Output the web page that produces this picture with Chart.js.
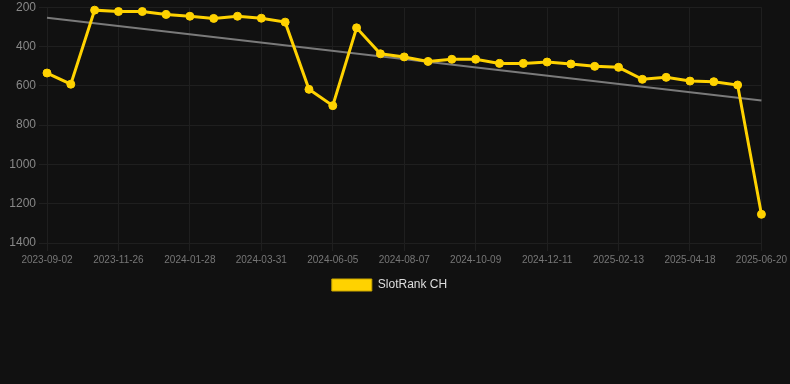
<!DOCTYPE html>
<html>
<head>
<meta charset="utf-8">
<script src="https://cdn.jsdelivr.net/npm/chart.js@4"></script>
<style>
  html, body { margin: 0; padding: 0; background: #111111; }
  #wrap { width: 790px; height: 301px; }
</style>
</head>
<body>
<div id="wrap"><canvas id="chartRank"></canvas></div>
<script>
"use strict";

var dates = [
  "2023-09-02", "2023-09-30", "2023-10-28", "2023-11-26", "2023-12-17", "2024-01-07",
  "2024-01-28", "2024-02-18", "2024-03-10", "2024-03-31", "2024-04-21", "2024-05-14",
  "2024-06-05", "2024-06-26", "2024-07-17", "2024-08-07", "2024-08-28", "2024-09-18",
  "2024-10-09", "2024-10-30", "2024-11-20", "2024-12-11", "2025-01-01", "2025-01-22",
  "2025-02-13", "2025-03-06", "2025-03-27", "2025-04-18", "2025-05-09", "2025-05-30",
  "2025-06-20"
];

var rankCH = [
  535, 592, 215, 222, 222, 237, 246, 257, 246, 256, 276, 618, 701, 305, 437,
  453, 476, 465, 465, 486, 486, 479, 489, 501, 506, 567, 557, 576, 579, 596,
  1254
];

// trend line: only the two end values, the gap is spanned
var trendStart = 254;
var trendEnd = 675;

var trend = dates.map(function(d, i) {
  if (i === 0) return trendStart;
  if (i === dates.length - 1) return trendEnd;
  return null;
});

var yTicks = [200, 400, 600, 800, 1000, 1200, 1400];

var lineColor = "#ffd200";

var chartRank = new Chart("chartRank", {
  type: 'line',
  data: {
    labels: dates,
    datasets: [
      {
        label: "SlotRank CH",
        borderColor: lineColor,
        backgroundColor: lineColor,
        borderWidth: 3,
        pointRadius: 4,
        pointBorderWidth: 1,
        pointHoverRadius: 5,
        tension: 0,
        clip: 8,
        data: rankCH
      },
      {
        label: "trend",
        borderColor: "#7a7a7a",
        borderWidth: 2,
        pointRadius: 0,
        spanGaps: true,
        data: trend
      }
    ]
  },
  options: {
    responsive: true,
    maintainAspectRatio: false,
    animation: false,
    layout: { padding: { left: 0, right: 11, top: 0, bottom: 0 } },
    plugins: {
      legend: {
        position: 'bottom',
        labels: {
          color: "#dddddd",
          boxWidth: 40,
          boxHeight: 12,
          font: { family: "Arial, 'Liberation Sans', sans-serif", size: 12 },
          generateLabels: function(chart) {
            return [{
              text: chart.data.datasets[0].label,
              fillStyle: lineColor,
              strokeStyle: "#c9a600",
              lineWidth: 1,
              fontColor: "#dddddd",
              datasetIndex: 0
            }];
          }
        }
      },
      tooltip: { enabled: false }
    },
    scales: {
      x: {
        grid: { color: "#1f1f1f", tickLength: 8 },
        border: { color: "#1f1f1f" },
        ticks: {
          color: "#777777",
          maxRotation: 0,
          autoSkip: true,
          maxTicksLimit: 11,
          font: { family: "Arial, 'Liberation Sans', sans-serif", size: 10 }
        }
      },
      y: {
        reverse: true,
        min: yTicks[0],
        max: yTicks[yTicks.length - 1],
        grid: { color: "#1f1f1f", tickLength: 8 },
        border: { color: "#1f1f1f" },
        afterFit: function(scale) { scale.width = 47; },
        ticks: {
          stepSize: 200,
          color: "#888888",
          font: { family: "Arial, 'Liberation Sans', sans-serif", size: 12, lineHeight: 0.7 },
          callback: function(v) { return String(v); }
        }
      }
    }
  }
});
</script>
</body>
</html>
